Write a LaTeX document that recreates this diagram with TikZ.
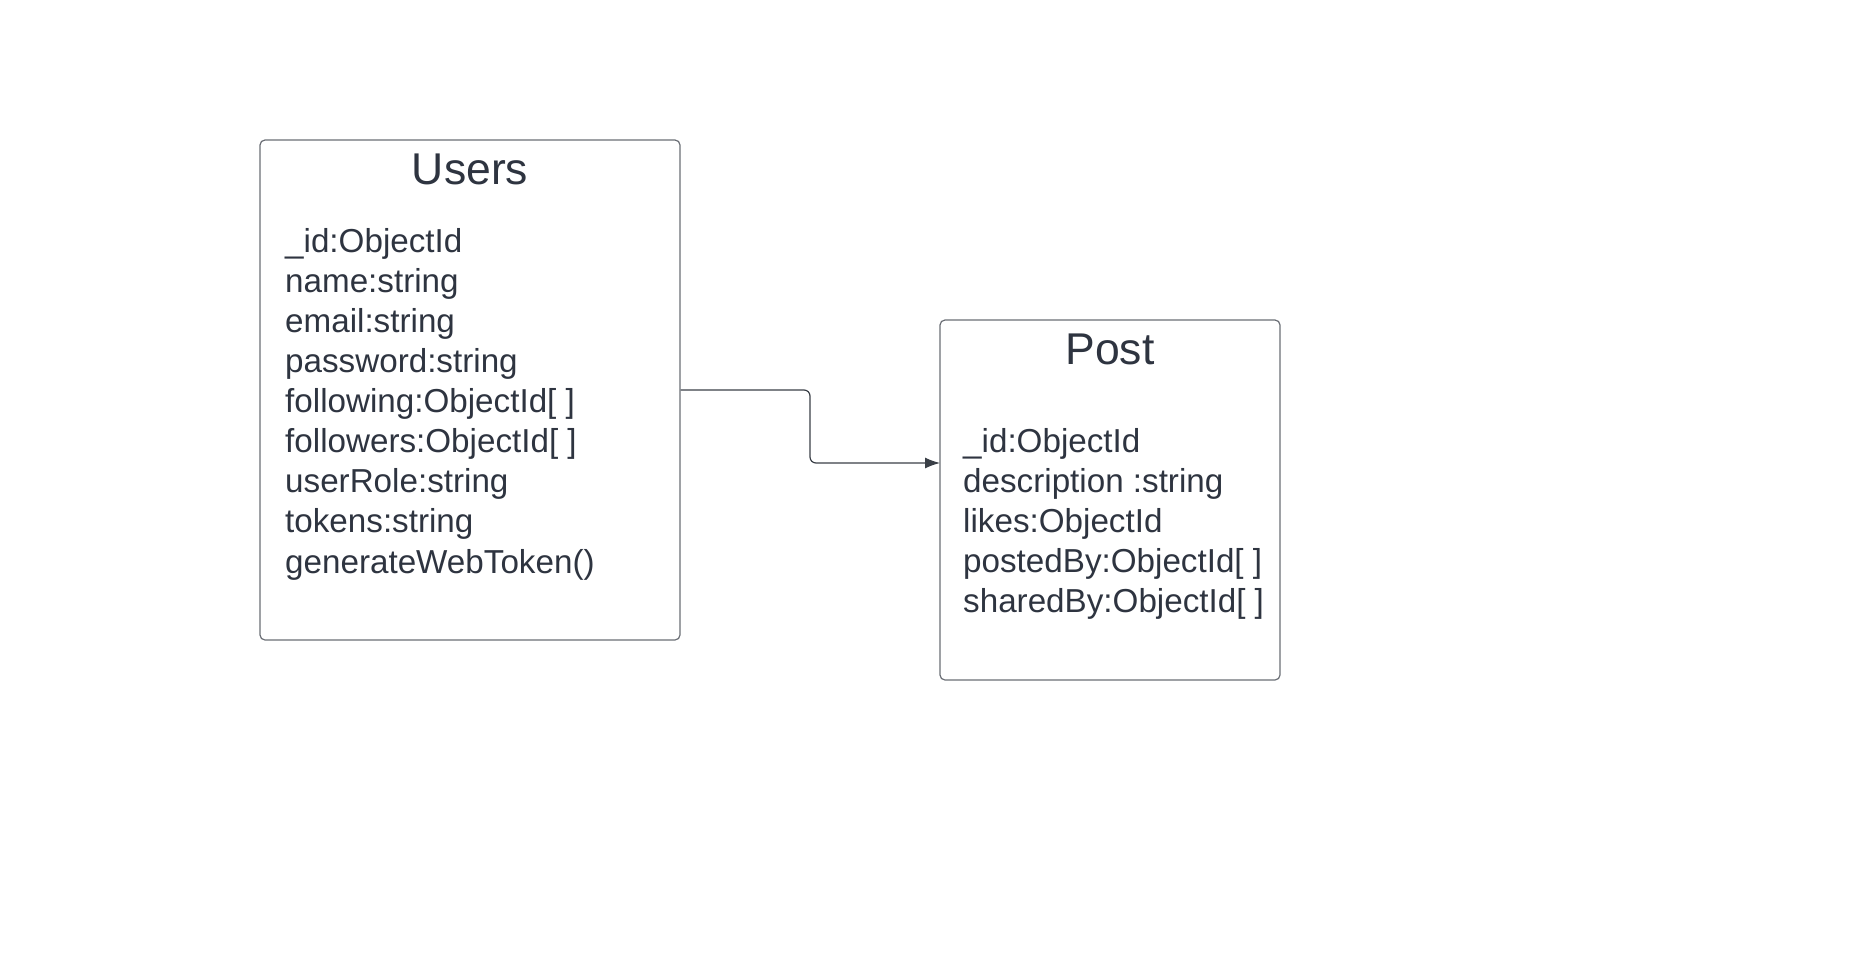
\documentclass[tikz,border=0pt]{standalone}
\usepackage{fontspec}
\setmainfont{Liberation Sans}
\usetikzlibrary{arrows.meta}
\definecolor{txt}{HTML}{2E3440}
\definecolor{edge}{HTML}{6A6E75}
\definecolor{conn}{HTML}{3A3F47}
\tikzset{
  entity/.style={draw=edge, line width=1.2pt, rounded corners=5pt, inner sep=0pt},
  title/.style={text=txt, inner sep=0pt, anchor=base, font=\fontsize{44.5}{50}\selectfont},
  attrs/.style={text=txt, inner sep=0pt, anchor=north west, align=left, font=\fontsize{33.2}{40.1}\selectfont},
  link/.style={draw=conn, line width=1.2pt, rounded corners=6pt, -{Latex[length=15pt,width=11pt]}}
}
\begin{document}
\begin{tikzpicture}[x=1pt,y=-1pt]
\useasboundingbox (0,0) rectangle (1870,972);
\node[entity, minimum width=420pt, minimum height=500pt] (users) at (470,390) {};
\node[entity, minimum width=340pt, minimum height=360pt] (post) at (1110,500) {};
\node[title] (userst) at (470,184) {Users};
\node[title] (postt) at (1110,364) {Post};
\node[attrs] (usersa) at (285,228) {\_id:ObjectId\\name:string\\email:string\\password:string\\following:ObjectId[ ]\\followers:ObjectId[ ]\\userRole:string\\tokens:string\\generateWebToken()};
\node[attrs] (posta) at (963,428) {\_id:ObjectId\\description :string\\likes:ObjectId\\postedBy:ObjectId[ ]\\sharedBy:ObjectId[ ]};
\coordinate (bend) at (810,390);
\coordinate (tgt) at (940,463);
\draw[link] (users.east) -- (bend) -- (bend |- tgt) -- (tgt);
\end{tikzpicture}
\end{document}
